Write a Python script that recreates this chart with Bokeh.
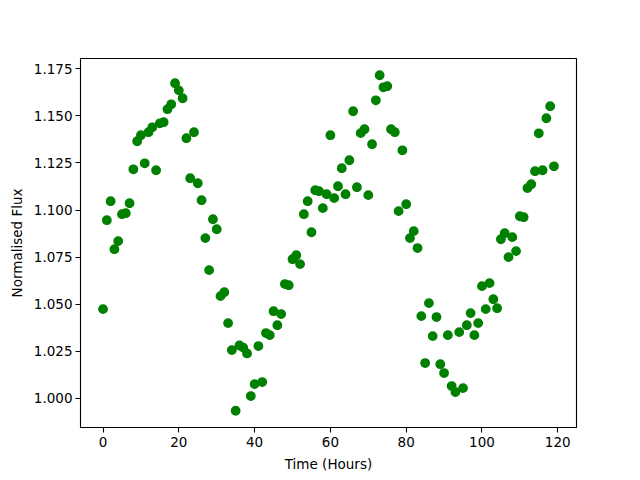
from bokeh.plotting import figure
from bokeh.models import Range1d, FixedTicker, NumeralTickFormatter
from bokeh.embed import file_html
from bokeh.resources import INLINE

time_hours = list(range(120))
flux = [
    1.0474, 1.0946, 1.1047, 1.0792, 1.0835, 1.0978, 1.0983, 1.1036, 1.1216, 1.1365,
    1.1397, 1.1248, 1.1413, 1.1439, 1.1211, 1.1460, 1.1466, 1.1535, 1.1561, 1.1673,
    1.1635, 1.1593, 1.1381, 1.1169, 1.1413, 1.1142, 1.1052, 1.0851, 1.0681, 1.0951,
    1.0898, 1.0543, 1.0564, 1.0400, 1.0257, 0.9935, 1.0281, 1.0270, 1.0239, 1.0013,
    1.0076, 1.0278, 1.0087, 1.0347, 1.0336, 1.0463, 1.0389, 1.0448, 1.0607, 1.0601,
    1.0739, 1.0760, 1.0713, 1.0978, 1.1047, 1.0882, 1.1105, 1.1100, 1.1010, 1.1084,
    1.1397, 1.1063, 1.1126, 1.1222, 1.1084, 1.1264, 1.1524, 1.1121, 1.1408, 1.1429,
    1.1079, 1.1349, 1.1582, 1.1715, 1.1651, 1.1657, 1.1429, 1.1413, 1.0994, 1.1317,
    1.1031, 1.0851, 1.0888, 1.0798, 1.0437, 1.0188, 1.0506, 1.0331, 1.0432, 1.0182,
    1.0135, 1.0336, 1.0066, 1.0034, 1.0352, 1.0055, 1.0389, 1.0453, 1.0336, 1.0400,
    1.0596, 1.0474, 1.0612, 1.0527, 1.0479, 1.0845, 1.0877, 1.0750, 1.0856, 1.0782,
    1.0967, 1.0962, 1.1116, 1.1137, 1.1206, 1.1407, 1.1211, 1.1487, 1.1551, 1.1232,
]
x_ticks = [0, 20, 40, 60, 80, 100, 120]
y_ticks = [1.000, 1.025, 1.050, 1.075, 1.100, 1.125, 1.150, 1.175]

def padded(vals, frac=0.05):
    lo, hi = min(vals), max(vals)
    pad = (hi - lo) * frac
    return lo - pad, hi + pad

xr = padded(time_hours)
yr = padded(flux)

p = figure(width=640, height=480, output_backend="svg", toolbar_location=None,
           x_range=Range1d(*xr), y_range=Range1d(*yr),
           min_border_left=80, min_border_right=64, min_border_top=58,
           min_border_bottom=53, background_fill_color="white",
           border_fill_color="white")

p.scatter(time_hours, flux, size=8.4, fill_color="#008000", line_color="#008000",
          line_width=1.4, marker="circle")

p.xgrid.visible = False
p.ygrid.visible = False
p.outline_line_color = "black"
p.outline_line_width = 1.1

p.xaxis.ticker = FixedTicker(ticks=x_ticks)
p.yaxis.ticker = FixedTicker(ticks=y_ticks)
p.yaxis.formatter = NumeralTickFormatter(format="0.000")
p.xaxis.axis_label = "Time (Hours)"
p.yaxis.axis_label = "Normalised Flux"

for ax in (p.xaxis[0], p.yaxis[0]):
    ax.axis_line_color = None
    ax.major_tick_in = 0
    ax.major_tick_out = 5
    ax.major_tick_line_width = 1.1
    ax.minor_tick_line_color = None
    ax.major_label_text_font = "DejaVu Sans"
    ax.major_label_text_font_size = "13.5px"
    ax.major_label_text_color = "black"
    ax.axis_label_text_font = "DejaVu Sans"
    ax.axis_label_text_font_size = "13.5px"
    ax.axis_label_text_font_style = "normal"
    ax.axis_label_text_color = "black"
    ax.axis_label_standoff = 6

p.xaxis[0].major_label_standoff = 4
p.yaxis[0].major_label_standoff = 3

open("out.html", "w").write(file_html(p, INLINE))
